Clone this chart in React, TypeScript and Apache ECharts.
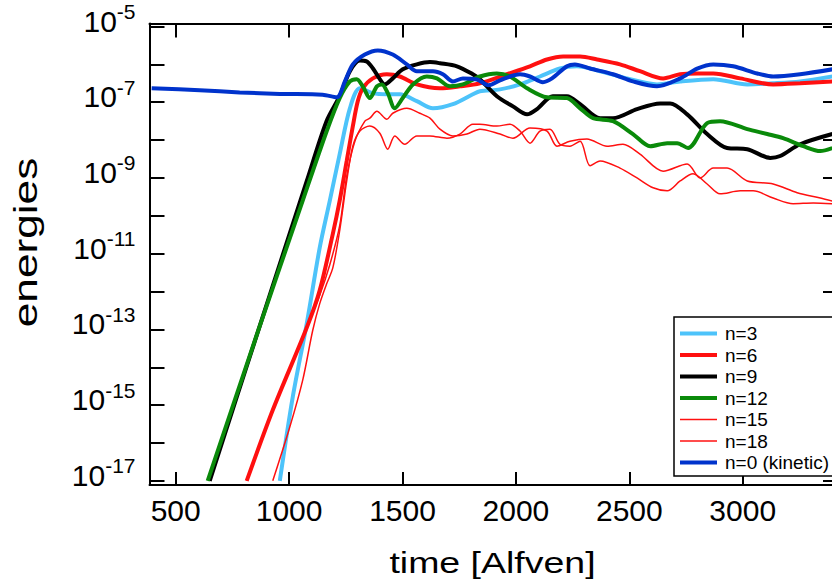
import React, { useEffect, useRef } from "react";
import * as echarts from "echarts";

// ---- axis ticks / labels ----
const xTickValues = [500, 1000, 1500, 2000, 2500, 3000];
const yTickExponents = [-17, -16, -15, -14, -13, -12, -11, -10, -9, -8, -7, -6, -5];
const yLabelExponents = [-17, -15, -13, -11, -9, -7, -5];
const xAxisTitle = "time [Alfven]";
const yAxisTitle = "energies";

const seriesNames = ["n=3", "n=6", "n=9", "n=12", "n=15", "n=18", "n=0 (kinetic)"];

// ---- data: time [Alfven] and log10(energy) ----
const n3Time = [959, 1016, 1078, 1135, 1179, 1223, 1268, 1312, 1369, 1431, 1488, 1563, 1634, 1722, 1810, 1841, 1930, 2018, 2106, 2194, 2269, 2371, 2490, 2622, 2724, 2870, 3020, 3134, 3253, 3395];
const n3LogE = [-17.0, -14.79, -12.84, -10.84, -9.61, -8.37, -7.16, -6.63, -6.76, -6.79, -6.79, -6.97, -7.16, -7.05, -6.79, -6.71, -6.66, -6.53, -6.32, -6.11, -6.05, -6.18, -6.37, -6.53, -6.45, -6.39, -6.53, -6.5, -6.45, -6.32];

const n6Time = [813, 928, 1078, 1135, 1193, 1223, 1254, 1281, 1303, 1325, 1369, 1431, 1488, 1563, 1665, 1753, 1841, 1960, 2062, 2137, 2208, 2283, 2358, 2459, 2547, 2649, 2724, 2799, 2870, 2989, 3134, 3253, 3395];
const n6LogE = [-17.0, -15.13, -12.95, -11.97, -10.47, -9.6, -8.55, -7.63, -6.97, -6.63, -6.37, -6.26, -6.32, -6.53, -6.63, -6.58, -6.5, -6.26, -6.05, -5.87, -5.79, -5.79, -5.87, -6.0, -6.18, -6.37, -6.26, -6.24, -6.24, -6.37, -6.53, -6.5, -6.45];

const n9Time = [650, 870, 1078, 1165, 1223, 1268, 1312, 1341, 1369, 1400, 1422, 1457, 1501, 1563, 1621, 1665, 1740, 1810, 1841, 1916, 1987, 2049, 2093, 2163, 2225, 2283, 2371, 2428, 2534, 2636, 2680, 2755, 2843, 2931, 3020, 3121, 3165, 3253, 3395];
const n9LogE = [-17.0, -12.92, -9.08, -7.5, -6.84, -6.18, -5.9, -5.92, -6.1, -6.39, -6.53, -6.37, -6.13, -6.0, -5.94, -5.97, -6.05, -6.26, -6.39, -6.84, -7.11, -7.32, -7.18, -6.84, -6.84, -7.05, -7.42, -7.42, -7.18, -7.03, -7.03, -7.32, -7.84, -8.21, -8.24, -8.47, -8.42, -8.11, -7.84];

const n12Time = [641, 860, 1060, 1166, 1223, 1268, 1298, 1325, 1356, 1387, 1409, 1435, 1466, 1501, 1546, 1607, 1652, 1709, 1766, 1841, 1916, 1974, 2049, 2137, 2225, 2283, 2340, 2428, 2516, 2592, 2667, 2711, 2759, 2843, 2900, 3020, 3108, 3178, 3267, 3342, 3395];
const n12LogE = [-17.0, -13.1, -9.6, -7.76, -6.89, -6.45, -6.39, -6.58, -6.89, -6.58, -6.53, -6.76, -7.16, -6.89, -6.53, -6.32, -6.37, -6.58, -6.53, -6.32, -6.24, -6.32, -6.63, -6.87, -6.89, -7.16, -7.42, -7.5, -7.84, -8.16, -8.08, -8.08, -8.21, -7.55, -7.5, -7.71, -7.84, -7.95, -8.16, -8.29, -8.21];

const n15Time = [813, 928, 1078, 1135, 1179, 1223, 1254, 1290, 1334, 1356, 1387, 1431, 1457, 1519, 1576, 1621, 1665, 1722, 1784, 1841, 1930, 1987, 2062, 2137, 2181, 2238, 2313, 2402, 2472, 2547, 2649, 2755, 2812, 2870, 2931, 3020, 3134, 3240, 3342, 3395];
const n15LogE = [-17.0, -15.13, -12.95, -12.1, -11.3, -10.26, -8.95, -8.03, -7.5, -7.42, -7.24, -7.45, -7.29, -7.16, -7.29, -7.42, -7.71, -7.89, -7.84, -7.71, -7.84, -7.95, -7.68, -7.76, -8.16, -8.03, -7.97, -8.16, -8.11, -8.37, -8.82, -8.63, -9.0, -8.74, -8.74, -9.08, -9.16, -9.39, -9.53, -9.61];

const n18Time = [928, 1003, 1060, 1104, 1135, 1166, 1193, 1223, 1254, 1281, 1312, 1356, 1400, 1435, 1466, 1510, 1563, 1621, 1696, 1753, 1810, 1841, 1916, 1974, 2018, 2062, 2106, 2150, 2194, 2238, 2283, 2327, 2371, 2459, 2534, 2605, 2667, 2724, 2781, 2843, 2900, 2989, 3046, 3134, 3222, 3311, 3395];
const n18LogE = [-17.0, -15.58, -14.34, -13.03, -12.32, -11.79, -11.37, -10.39, -9.08, -8.16, -7.76, -7.63, -7.82, -8.24, -7.89, -8.11, -7.89, -7.89, -7.95, -7.84, -7.58, -7.58, -7.63, -7.58, -7.76, -8.08, -7.76, -7.71, -8.11, -8.16, -8.03, -8.68, -8.55, -8.74, -9.0, -9.26, -9.34, -9.08, -8.89, -9.16, -9.42, -9.34, -9.34, -9.53, -9.68, -9.66, -9.68];

const n0Time = [394, 606, 782, 959, 1148, 1210, 1246, 1281, 1334, 1391, 1457, 1519, 1563, 1634, 1678, 1722, 1766, 1828, 1880, 1930, 2018, 2062, 2119, 2159, 2225, 2260, 2327, 2428, 2516, 2622, 2724, 2799, 2870, 2958, 3064, 3134, 3253, 3395];
const n0LogE = [-6.63, -6.68, -6.74, -6.78, -6.8, -6.87, -6.45, -6.0, -5.74, -5.63, -5.74, -6.0, -6.18, -6.18, -6.26, -6.45, -6.37, -6.4, -6.55, -6.42, -6.26, -6.32, -6.47, -6.37, -6.05, -6.0, -6.11, -6.26, -6.45, -6.58, -6.37, -6.11, -6.0, -6.05, -6.24, -6.32, -6.26, -6.13];

const FONT = "'Liberation Sans', Arial, Helvetica, sans-serif";

const toPairs = (t: number[], e: number[]) => t.map((x, i) => [x, Math.pow(10, e[i])]);

const seriesDefs = [
  { name: seriesNames[0], time: n3Time, logE: n3LogE, color: "#4DC3FA", width: 4 },
  { name: seriesNames[1], time: n6Time, logE: n6LogE, color: "#FF1010", width: 4 },
  { name: seriesNames[2], time: n9Time, logE: n9LogE, color: "#000000", width: 4 },
  { name: seriesNames[3], time: n12Time, logE: n12LogE, color: "#0A8A0A", width: 4 },
  { name: seriesNames[4], time: n15Time, logE: n15LogE, color: "#FF1010", width: 1.5 },
  { name: seriesNames[5], time: n18Time, logE: n18LogE, color: "#FF1010", width: 1.5 },
  { name: seriesNames[6], time: n0Time, logE: n0LogE, color: "#0033CC", width: 4 },
];

export default function App() {
  const ref = useRef<HTMLDivElement>(null);
  useEffect(() => {
    if (!ref.current) return;
    const chart = echarts.init(ref.current, null, { renderer: "svg" });
    const X_MIN = 384.5;
    const X_MAX = 3420;
    const Y_MIN = Math.pow(10, -17.11);
    const Y_MAX = Math.pow(10, -4.92);
    const yTickValues = yTickExponents.map((e) => Math.pow(10, e));
    const yLabelValues = yLabelExponents.map((e) => Math.pow(10, e));
    const axisLine = { show: true, onZero: false, lineStyle: { color: "#000", width: 2 } };

    chart.setOption({
      animation: false,
      backgroundColor: "#fff",
      grid: { left: 149.5, top: 23.5, width: 688.5, height: 461.5, containLabel: false, outerBoundsMode: "none" },
      legend: {
        orient: "vertical",
        left: 674,
        top: 317,
        padding: [7, 20, 4, 6],
        itemWidth: 37,
        itemHeight: 14,
        itemGap: 2.5,
        symbolKeepAspect: true,
        backgroundColor: "#fff",
        borderColor: "#000",
        borderWidth: 1.5,
        borderRadius: 0,
        textStyle: { fontSize: 19, color: "#000", fontFamily: FONT, lineHeight: 18, padding: [0, 0, 0, 3] },
        data: seriesDefs.map((s) => ({
          name: s.name,
          icon: s.width > 2 ? "path://M0 0H37V4H0Z" : "path://M0 0H37V1.5H0Z",
        })),
      },
      graphic: [
        {
          type: "text",
          x: 25,
          y: 242.5,
          rotation: Math.PI / 2,
          scaleX: 1.3,
          silent: true,
          style: {
            text: yAxisTitle,
            font: `34px ${FONT}`,
            fill: "#000",
            align: "center",
            verticalAlign: "middle",
            textAlign: "center",
            textVerticalAlign: "middle",
          },
        },
        {
          type: "text",
          x: 492.5,
          y: 562.5,
          scaleX: 1.25,
          silent: true,
          style: {
            text: xAxisTitle,
            font: `30px ${FONT}`,
            fill: "#000",
            align: "center",
            verticalAlign: "middle",
            textAlign: "center",
            textVerticalAlign: "middle",
          },
        },
      ],
      xAxis: [
        {
          type: "value",
          position: "bottom",
          min: X_MIN,
          max: X_MAX,
          axisLine,
          axisTick: { show: true, inside: true, length: 13, customValues: xTickValues, lineStyle: { color: "#000", width: 2 } },
          axisLabel: {
            customValues: xTickValues,
            fontSize: 30,
            color: "#000",
            fontFamily: FONT,
            margin: 10,
            formatter: (v: number) => String(v),
          },
          splitLine: { show: false },
        },
        {
          type: "value",
          position: "top",
          min: X_MIN,
          max: X_MAX,
          axisLine,
          axisTick: { show: true, inside: true, length: 14, customValues: xTickValues, lineStyle: { color: "#000", width: 2 } },
          axisLabel: { show: false },
          splitLine: { show: false },
        },
      ],
      yAxis: [
        {
          type: "log",
          logBase: 10,
          position: "left",
          min: Y_MIN,
          max: Y_MAX,
          axisLine,
          axisTick: { show: true, inside: true, length: 15, customValues: yTickValues, lineStyle: { color: "#000", width: 2 } },
          axisLabel: {
            customValues: yLabelValues,
            margin: 14,
            padding: [0, 0, 11, 0],
            formatter: (v: number) => "{b|10}{s|" + Math.round(Math.log10(v)) + "}",
            rich: {
              b: { fontSize: 30, lineHeight: 40, color: "#000", fontFamily: FONT },
              s: { fontSize: 21, lineHeight: 21, color: "#000", fontFamily: FONT, verticalAlign: "top" },
            },
          },
          splitLine: { show: false },
          minorTick: { show: false },
        },
        {
          type: "log",
          logBase: 10,
          position: "right",
          min: Y_MIN,
          max: Y_MAX,
          axisLine,
          axisTick: { show: true, inside: true, length: 15, customValues: yTickValues, lineStyle: { color: "#000", width: 2 } },
          axisLabel: { show: false },
          splitLine: { show: false },
        },
      ],
      series: seriesDefs.map((s) => ({
        name: s.name,
        type: "line",
        xAxisIndex: 0,
        yAxisIndex: 0,
        data: toPairs(s.time, s.logE),
        symbol: "none",
        showSymbol: false,
        smooth: 0.3,
        clip: true,
        color: s.color,
        itemStyle: { color: s.color },
        lineStyle: { color: s.color, width: s.width },
      })),
    });
    return () => chart.dispose();
  }, []);
  return <div ref={ref} style={{ position: "absolute", left: 0, top: 0, width: 832, height: 581 }} />;
}
